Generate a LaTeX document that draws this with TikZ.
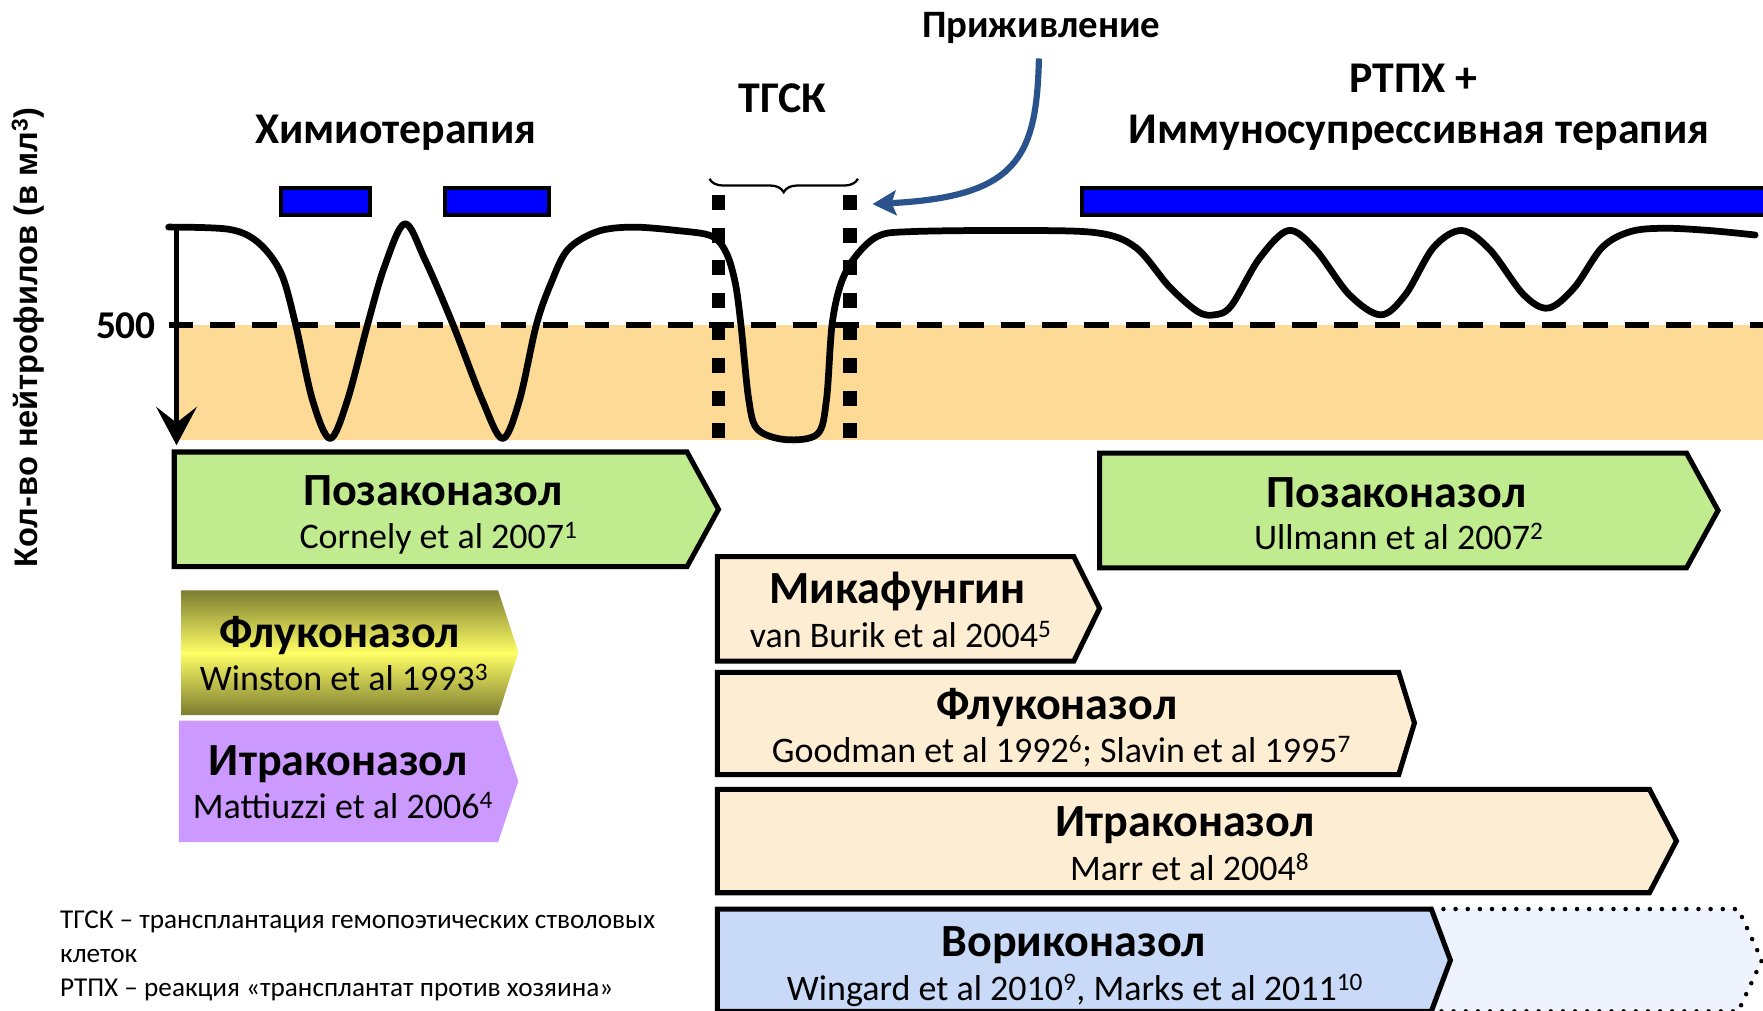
\documentclass[tikz,border=0pt]{standalone}
\usepackage{fontspec}
\setmainfont{Carlito}
\newfontfamily\axisfont{Liberation Sans}
\usetikzlibrary{arrows.meta}
\usetikzlibrary{decorations.pathreplacing}

\definecolor{bandorange}{RGB}{253,218,150}
\definecolor{chemoblue}{RGB}{0,0,255}
\definecolor{posgreen}{RGB}{192,235,142}
\definecolor{drugbeige}{RGB}{253,237,210}
\definecolor{vorblue}{RGB}{201,218,248}
\definecolor{vorpale}{RGB}{238,243,253}
\definecolor{itrpurple}{RGB}{204,153,255}
\definecolor{flkolive}{RGB}{122,122,48}
\definecolor{flkyellow}{RGB}{255,255,102}
\definecolor{engraftblue}{RGB}{42,82,140}

\begin{document}
\begin{tikzpicture}[x=1pt,y=-1pt,
  heading/.style={font=\fontsize{39}{44}\selectfont\bfseries, anchor=base},
  drugname/.style={font=\fontsize{41}{46}\selectfont\bfseries, anchor=base},
  drugref/.style={font=\fontsize{32}{36}\selectfont, anchor=base},
  note/.style={font=\fontsize{24.2}{28}\selectfont, anchor=base west},
  chemobar/.style={draw=black, fill=chemoblue, line width=3.5},
  drugbox/.style={draw=black, line width=4.5, line join=miter},
  neutro/.style={line width=6, line join=round, line cap=round}]
\useasboundingbox (0,0) rectangle (1568,899);

% neutropenia band and 500 threshold
\fill[bandorange] (157,289) rectangle (1568,391.5);
\draw[line width=5, dash pattern=on 22 off 15] (150,289) -- (1568,289);
\node[heading, font=\fontsize{35}{40}\selectfont\bfseries] (lvl) at (112,301) {500};
\node[font=\axisfont\fontsize{29}{32}\selectfont\bfseries, rotate=90] (ylab)
  at (25,300) {Кол-во нейтрофилов (в мл\textsuperscript{3})};

% transplant window
\draw[line width=12, dash pattern=on 13.3 off 15.7] (639,173.5) -- (639,392);
\draw[line width=12, dash pattern=on 13.3 off 15.7] (756,173.5) -- (756,392);
\draw[line width=2, decorate, decoration={brace, amplitude=12}]
  (763,159) -- (631,159);

% neutrophil count
\draw[neutro] plot[smooth, tension=0.55] coordinates {
  (150,202) (204,204) (230,216) (250,243) (263,289) (278,356) (293.6,390)
  (309,356) (326.8,289) (342,237) (360,199) (378,231) (403,289) (429,356)
  (447,390) (462,356) (477,289) (490,252) (505,222) (531,206) (562,202)
  (602,205) (633,210) (646,225) (654,252) (659,289) (666,356) (674,382)
  (699,391) (727,386) (735,356) (740,289) (748,252) (761,228) (781,210)
  (810,206) (900,205) (975,207) (1010,220) (1040,255) (1065,277) (1080,280)
  (1095,272) (1120,230) (1146,205) (1170,222) (1200,262) (1228,280)
  (1250,262) (1275,220) (1300,205) (1325,222) (1355,262) (1377,274)
  (1400,256) (1425,220) (1450,206) (1480,203) (1520,205) (1561,209)};
\draw[line width=5, -{Stealth[length=34, width=36, inset=14]}]
  (157,199) -- (157,396);

% therapy bars
\filldraw[chemobar] (250,167) rectangle (329,191);
\filldraw[chemobar] (396,167) rectangle (488,191);
\filldraw[chemobar] (962,167) rectangle (1580,191);

% headings
\node[heading] (chemo) at (352,128) {Химиотерапия};
\node[heading] (tgsk) at (696,100) {ТГСК};
\node[heading, font=\fontsize{34.5}{40}\selectfont\bfseries] (engraft)
  at (926,33) {Приживление};
\node[heading] (gvhd) at (1257,82) {РТПХ +};
\node[heading] (immuno) at (1262,128) {Иммуносупрессивная терапия};
\coordinate (engstart) at (924,52);
\coordinate (engtip) at (776,181.5);
\draw[engraftblue, line width=5.5, -{Stealth[length=21, width=22, inset=4]}]
  (engstart) .. controls (922,140) and (905,175) .. (engtip);

% prophylaxis arrows
\filldraw[drugbox, fill=posgreen] (155,402) -- (611,402) -- (639,453)
  -- (611,504) -- (155,504) -- cycle;
\node[drugname] (pos1) at (385,450) {Позаконазол};
\node[drugref] (pos1ref) at (390,488) {Cornely et al 2007\textsuperscript{1}};

\filldraw[drugbox, fill=posgreen] (978,403) -- (1500,403) -- (1528,454)
  -- (1500,505) -- (978,505) -- cycle;
\node[drugname] (pos2) at (1242,451) {Позаконазол};
\node[drugref] (pos2ref) at (1244,489) {Ullmann et al 2007\textsuperscript{2}};

\begin{scope}
\clip (161,525) -- (443,525) -- (461,580) -- (443,636) -- (161,636) -- cycle;
\shade[top color=flkolive, bottom color=flkyellow] (160,524) rectangle (462,581);
\shade[top color=flkyellow, bottom color=flkolive] (160,580) rectangle (462,637);
\end{scope}
\node[drugname] (flk1) at (302,576) {Флуконазол};
\node[drugref] (flk1ref) at (306,614) {Winston et al 1993\textsuperscript{3}};

\fill[itrpurple] (159,641) -- (443,641) -- (461,695) -- (443,749)
  -- (159,749) -- cycle;
\node[drugname] (itr1) at (301,690) {Итраконазол};
\node[drugref] (itr1ref) at (305,728) {Mattiuzzi et al 2006\textsuperscript{4}};

\filldraw[drugbox, fill=drugbeige] (638,495) -- (955,495) -- (978,541)
  -- (955,588) -- (638,588) -- cycle;
\node[drugname] (mika) at (798,537) {Микафунгин};
\node[drugref] (mikaref) at (801,576) {van Burik et al 2004\textsuperscript{5}};

\filldraw[drugbox, fill=drugbeige] (638,598) -- (1244,598) -- (1258,643)
  -- (1244,689) -- (638,689) -- cycle;
\node[drugname] (flk2) at (940,640) {Флуконазол};
\node[drugref] (flk2ref) at (944,678)
  {Goodman et al 1992\textsuperscript{6}; Slavin et al 1995\textsuperscript{7}};

\filldraw[drugbox, fill=drugbeige] (638,702) -- (1467,702) -- (1491,748)
  -- (1467,794) -- (638,794) -- cycle;
\node[drugname] (itr2) at (1054,744) {Итраконазол};
\node[drugref] (itr2ref) at (1058,783) {Marr et al 2004\textsuperscript{8}};

\filldraw[fill=vorpale, line width=4, line cap=round, dash pattern=on 0 off 10.8]
  (1273,808.5) -- (1546,808.5) -- (1567,854) -- (1546,899.5) -- (1273,899.5);
\filldraw[drugbox, fill=vorblue] (638,808.5) -- (1273,808.5) -- (1290,854)
  -- (1273,899.5) -- (638,899.5) -- cycle;
\node[drugname] (vor) at (955,851) {Вориконазол};
\node[drugref] (vorref) at (956,890)
  {Wingard et al 2010\textsuperscript{9}, Marks et al 2011\textsuperscript{10}};

% abbreviations
\node[note] (abbr1) at (50,826) {ТГСК – трансплантация гемопоэтических стволовых};
\node[note] (abbr2) at (50,856) {клеток};
\node[note] (abbr3) at (50,886) {РТПХ – реакция «трансплантат против хозяина»};
\end{tikzpicture}
\end{document}
